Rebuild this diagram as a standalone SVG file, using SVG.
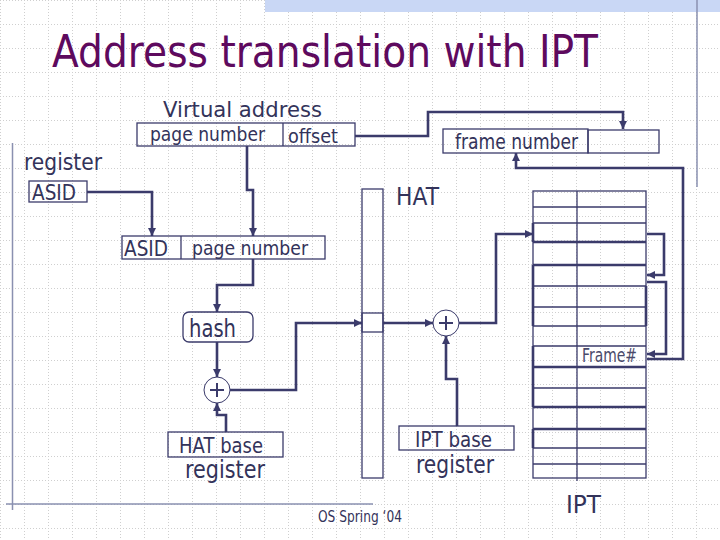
<svg xmlns="http://www.w3.org/2000/svg" width="720" height="540" viewBox="0 0 720 540">
<defs>
<pattern id="grid" x="0" y="0" width="24" height="24" patternUnits="userSpaceOnUse">
<path d="M0.5,0 V24 M0,0.5 H24" stroke="#cfcfcf" stroke-width="1" stroke-dasharray="1 2" fill="none"/>
</pattern>
<marker id="arr" markerUnits="userSpaceOnUse" markerWidth="9" markerHeight="9" refX="8" refY="4" orient="auto">
<path d="M0,0 L8,4 L0,8 z" fill="#3b3b6b"/>
</marker>
<style>
.t{font-family:"DejaVu Sans","Liberation Sans",sans-serif;fill:#33335a}
.box{fill:none;stroke:#3b3b6b;stroke-width:1.3}
.thk{fill:none;stroke:#3b3b6b;stroke-width:2.6}
.con{fill:none;stroke:#3b3b6b;stroke-width:2.6;marker-end:url(#arr)}
.frame{stroke:#8a90b0;stroke-width:1.5;fill:none}
</style>
</defs>
<rect width="720" height="540" fill="#ffffff"/>
<rect width="720" height="540" fill="url(#grid)"/>
<rect x="265" y="0" width="455" height="12" fill="#c9d7f5"/>
<g id="frame-lines">
<path class="frame" d="M697,0 V187"/>
<path class="frame" d="M12.5,143 V510"/>
<path class="frame" d="M6,504 H373"/>
</g>
<text class="t" x="52" y="67" font-size="45" style="fill:#5e0a5e" textLength="546" lengthAdjust="spacingAndGlyphs">Address translation with IPT</text>

<g id="virtual-address">
<text class="t" x="163" y="117" font-size="22" textLength="159" lengthAdjust="spacingAndGlyphs">Virtual address</text>
<rect class="box" x="137" y="123" width="218" height="23"/>
<path class="box" d="M283,123 V146"/>
<text class="t" x="150" y="141" font-size="20" textLength="115" lengthAdjust="spacingAndGlyphs">page number</text>
<text class="t" x="288" y="143" font-size="20" textLength="50" lengthAdjust="spacingAndGlyphs">offset</text>
</g>

<g id="register">
<text class="t" x="24" y="170" font-size="23" textLength="78" lengthAdjust="spacingAndGlyphs">register</text>
<rect class="box" x="29" y="181" width="58" height="21"/>
<text class="t" x="32" y="200" font-size="21" textLength="44" lengthAdjust="spacingAndGlyphs">ASID</text>
</g>

<g id="asid-page">
<rect class="box" x="122" y="236" width="203" height="23"/>
<path class="box" d="M181,236 V259"/>
<text class="t" x="124" y="256" font-size="21" textLength="44" lengthAdjust="spacingAndGlyphs">ASID</text>
<text class="t" x="192" y="255" font-size="20" textLength="116" lengthAdjust="spacingAndGlyphs">page number</text>
</g>

<g id="hash">
<rect class="box" x="183" y="312" width="70" height="30" rx="6"/>
<text class="t" x="189" y="337" font-size="24" textLength="47" lengthAdjust="spacingAndGlyphs">hash</text>
</g>

<g id="plus1">
<circle cx="217" cy="390" r="13" fill="#ffffff" stroke="#3b3b6b" stroke-width="1"/>
<path d="M210,390 H224 M217,383 V397" stroke="#3b3b6b" stroke-width="2" fill="none"/>
</g>

<g id="hat-base">
<rect class="box" x="168" y="432" width="115" height="25"/>
<text class="t" x="179" y="453" font-size="21" textLength="84" lengthAdjust="spacingAndGlyphs">HAT base</text>
<text class="t" x="185" y="478" font-size="24" textLength="80" lengthAdjust="spacingAndGlyphs">register</text>
</g>

<g id="hat">
<text class="t" x="396" y="205" font-size="25" textLength="43" lengthAdjust="spacingAndGlyphs">HAT</text>
<rect class="box" x="362" y="189" width="21" height="289"/>
<rect class="box" x="362" y="313" width="21" height="19"/>
</g>

<g id="plus2">
<circle cx="446" cy="323" r="13" fill="#ffffff" stroke="#3b3b6b" stroke-width="1"/>
<path d="M439,323 H453 M446,316 V330" stroke="#3b3b6b" stroke-width="2" fill="none"/>
</g>

<g id="ipt-base">
<rect class="box" x="399" y="426" width="115" height="24"/>
<text class="t" x="415" y="447" font-size="21" textLength="77" lengthAdjust="spacingAndGlyphs">IPT base</text>
<text class="t" x="416" y="473" font-size="24" textLength="78" lengthAdjust="spacingAndGlyphs">register</text>
</g>

<g id="frame-number">
<rect class="box" x="443" y="129" width="145" height="24"/>
<rect class="box" x="588" y="130" width="71" height="23"/>
<text class="t" x="455" y="149" font-size="21" textLength="123" lengthAdjust="spacingAndGlyphs">frame number</text>
</g>

<g id="ipt">
<rect class="box" x="533" y="191" width="113" height="287"/>
<path class="box" d="M577,191 V481"/>
<path class="box" d="M533,207 H646 M533,223 H646 M533,286 H646 M533,307 H646 M533,326 H646 M533,346 H646 M533,388 H646 M533,448 H646 M533,464 H646"/>
<path class="thk" d="M533,242 H646 M533,265 H646 M533,367 H646 M533,407 H646 M533,429 H646"/>
<path class="thk" d="M533,223 V242 M533,265 V326 M533,346 V407 M533,429 V448 M646,286 V326"/>
<text class="t" x="582" y="362" font-size="19" style="fill:#4a4a6a" textLength="55" lengthAdjust="spacingAndGlyphs">Frame#</text>
<text class="t" x="566" y="513" font-size="24" textLength="35" lengthAdjust="spacingAndGlyphs">IPT</text>
</g>

<g id="connectors">
<path class="con" d="M87,192 H152 V236"/>
<path class="con" d="M247,146 V190 H253 V236"/>
<path class="con" d="M253,259 V285 H217 V312"/>
<path class="con" d="M217,342 V377"/>
<path class="con" d="M226,432 V415 H217 V403"/>
<path class="con" d="M230,390 H296 V323 H362"/>
<path class="con" d="M383,323 H433"/>
<path class="con" d="M457,426 V379 H446 V336"/>
<path class="con" d="M459,323 H496 V234 H533"/>
<path class="con" d="M355,136 H428 V112 H623 V129"/>
<path class="con" d="M647,359 H683 V168 H516 V153"/>
<path class="con" d="M647,234 H664 V275 H647"/>
<path class="con" d="M647,282 H666 V354 H647"/>
</g>

<text class="t" x="318" y="522" font-size="15" textLength="84" lengthAdjust="spacingAndGlyphs">OS Spring ‘04</text>
</svg>
